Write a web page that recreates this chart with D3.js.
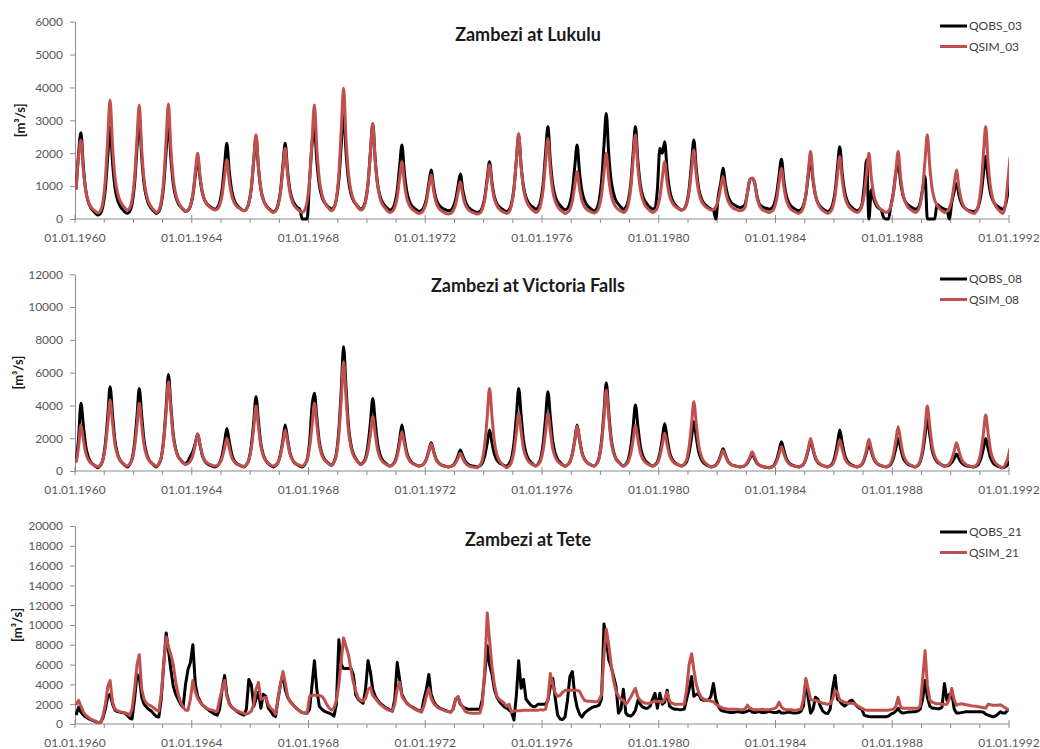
<!DOCTYPE html>
<html>
<head>
<meta charset="utf-8">
<script src="https://cdn.jsdelivr.net/npm/d3@7"></script>
<style>
  html, body { margin: 0; padding: 0; background: #fff; }
  svg { display: block; font-family: Lato, "Open Sans", "DejaVu Sans", sans-serif; }
</style>
</head>
<body>
<svg id="chart" width="1040" height="749"></svg>
<script>
// ---- Monthly discharge [m3/s], one value per month from Jan 1960 to Jan 1992 ----

const panelTitles = ["Zambezi at Lukulu", "Zambezi at Victoria Falls", "Zambezi at Tete"];
const obsNames = ["QOBS_03", "QOBS_08", "QOBS_21"];
const simNames = ["QSIM_03", "QSIM_08", "QSIM_21"];

const xTickYears = [1960, 1964, 1968, 1972, 1976, 1980, 1984, 1988, 1992];
const xTickLabels = ["01.01.1960", "01.01.1964", "01.01.1968", "01.01.1972", "01.01.1976",
                     "01.01.1980", "01.01.1984", "01.01.1988", "01.01.1992"];

const yTicksLukulu = [0, 1000, 2000, 3000, 4000, 5000, 6000];
const yTicksVicFalls = [0, 2000, 4000, 6000, 8000, 10000, 12000];
const yTicksTete = [0, 2000, 4000, 6000, 8000, 10000, 12000, 14000, 16000, 18000, 20000];

const lukuluObs = [
  900, 2000, 2620, 1570, 870, 520, 350, 250, 170, 120, 170, 390,
  920, 1940, 2800, 1700, 960, 590, 410, 300, 220, 170, 230, 460,
  1050, 2160, 3100, 1870, 1050, 640, 430, 320, 230, 170, 230, 450,
  1020, 2090, 3000, 1840, 1060, 670, 480, 370, 290, 230, 260, 390,
  720, 1330, 1850, 1200, 770, 550, 440, 380, 330, 300, 340, 500,
  900, 1660, 2300, 1440, 870, 580, 440, 350, 290, 250, 300, 480,
  930, 1780, 2500, 1540, 900, 590, 430, 330, 270, 220, 260, 430,
  840, 1630, 2300, 1440, 870, 580, 440, 350, 290, 0, 0, 0,
  1200, 2300, 2760, 1730, 1040, 690, 520, 420, 350, 300, 360, 600,
  1190, 2310, 3260, 2020, 1190, 770, 570, 450, 360, 300, 350, 560,
  1080, 2070, 2900, 1800, 1060, 690, 510, 400, 320, 270, 310, 470,
  860, 1620, 2250, 1400, 840, 550, 410, 330, 270, 230, 260, 360,
  610, 1090, 1490, 970, 620, 450, 360, 310, 280, 250, 270, 360,
  590, 1010, 1370, 880, 550, 390, 310, 260, 220, 200, 230, 350,
  660, 1250, 1740, 1110, 680, 470, 370, 310, 260, 230, 280, 460,
  930, 1810, 2550, 1610, 980, 660, 500, 410, 350, 300, 350, 550,
  1050, 2010, 2810, 1750, 1040, 690, 510, 410, 330, 280, 320, 480,
  870, 1620, 2250, 1410, 850, 570, 430, 350, 290, 250, 310, 550,
  1140, 2260, 3210, 1990, 1170, 770, 560, 450, 360, 300, 350, 550,
  1050, 2010, 2810, 1760, 1050, 700, 530, 430, 350, 300, 340, 900,
  2150, 2000, 2350, 1480, 890, 600, 460, 370, 310, 270, 310, 480,
  910, 1720, 2400, 1520, 930, 640, 490, 410, 340, 300, 280, 0,
  700, 1100, 1540, 1040, 710, 540, 460, 410, 370, 350, 370, 440,
  800, 1200, 1240, 1100, 700, 450, 380, 340, 320, 300, 330, 450,
  760, 1330, 1820, 1160, 720, 500, 390, 330, 280, 250, 280, 410,
  730, 1340, 1850, 1170, 720, 490, 380, 310, 260, 230, 270, 430,
  820, 1570, 2200, 1380, 840, 560, 430, 350, 290, 250, 280, 410,
  1000, 1800, 0, 900, 600, 420, 330, 280, 50, 0, 0, 400,
  800, 1400, 1690, 1110, 720, 520, 430, 370, 330, 300, 330, 500,
  900, 1290, 0, 0, 0, 0, 450, 380, 330, 300, 280, 0,
  500, 850, 1080, 720, 480, 360, 300, 260, 240, 220, 250, 390,
  720, 1360, 1900, 1230, 780, 560, 440, 380, 330, 300, 400, 750,
  1200
];

const lukuluSim = [
  900, 1900, 2400, 1470, 850, 540, 380, 290, 230, 180, 250, 520,
  1210, 2520, 3620, 2210, 1280, 810, 570, 440, 340, 270, 330, 590,
  1230, 2450, 3470, 2100, 1180, 720, 490, 360, 270, 200, 270, 530,
  1190, 2440, 3500, 2130, 1210, 750, 520, 390, 300, 230, 270, 410,
  760, 1430, 2000, 1270, 790, 550, 430, 360, 310, 270, 300, 420,
  730, 1310, 1800, 1150, 720, 500, 390, 330, 280, 250, 300, 480,
  940, 1820, 2560, 1570, 910, 580, 410, 320, 250, 200, 240, 400,
  790, 1530, 2150, 1330, 790, 510, 380, 300, 240, 200, 270, 530,
  1180, 2420, 3470, 2120, 1220, 770, 540, 410, 310, 250, 330, 620,
  1370, 2790, 3980, 2420, 1380, 860, 600, 460, 340, 270, 320, 530,
  1060, 2070, 2910, 1770, 1010, 630, 440, 340, 250, 200, 230, 350,
  660, 1250, 1740, 1080, 640, 420, 310, 250, 200, 170, 190, 290,
  520, 970, 1340, 840, 510, 340, 260, 210, 170, 150, 170, 250,
  440, 820, 1130, 720, 440, 310, 240, 200, 170, 150, 180, 300,
  600, 1160, 1640, 1020, 610, 410, 300, 240, 200, 170, 220, 410,
  900, 1820, 2600, 1590, 920, 580, 420, 320, 250, 200, 250, 430,
  880, 1730, 2450, 1490, 850, 540, 380, 280, 220, 170, 200, 300,
  550, 1030, 1440, 910, 560, 380, 290, 240, 210, 180, 220, 360,
  730, 1420, 2000, 1240, 740, 490, 360, 290, 240, 200, 250, 440,
  910, 1810, 2560, 1570, 910, 580, 410, 320, 250, 200, 230, 350,
  660, 1250, 1740, 1120, 710, 510, 400, 340, 300, 270, 310, 450,
  820, 1510, 2100, 1330, 820, 560, 440, 360, 310, 270, 290, 370,
  580, 960, 1290, 850, 560, 420, 340, 300, 270, 250, 270, 350,
  800, 1200, 1240, 1100, 650, 400, 300, 250, 220, 200, 230, 330,
  600, 1110, 1540, 970, 580, 390, 290, 240, 200, 170, 210, 360,
  730, 1450, 2050, 1260, 730, 470, 340, 260, 210, 170, 210, 340,
  690, 1350, 1900, 1190, 710, 470, 350, 290, 230, 200, 240, 380,
  740, 1420, 2000, 1240, 740, 490, 360, 290, 240, 200, 240, 390,
  760, 1460, 2050, 1270, 760, 500, 370, 290, 240, 200, 250, 440,
  910, 1810, 2560, 1570, 910, 580, 410, 320, 250, 200, 230, 330,
  590, 1080, 1490, 940, 570, 380, 290, 240, 200, 170, 220, 430,
  960, 1970, 2810, 1700, 960, 590, 410, 300, 220, 170, 400, 1100,
  1900
];

const vicFallsObs = [
  600, 2000, 4130, 2760, 1500, 870, 550, 400, 280, 200, 350, 690,
  1680, 3410, 5140, 3430, 1860, 1080, 690, 500, 350, 250, 390, 730,
  1690, 3360, 5040, 3360, 1830, 1060, 680, 490, 350, 250, 420, 810,
  1940, 3920, 5890, 3970, 2210, 1330, 890, 680, 510, 450, 600, 900,
  1200, 1700, 2260, 1560, 910, 590, 430, 350, 290, 250, 320, 490,
  960, 1780, 2600, 1780, 1030, 650, 460, 370, 300, 250, 380, 680,
  1530, 3030, 4530, 3030, 1660, 980, 640, 460, 340, 250, 330, 510,
  1020, 1910, 2800, 1910, 1090, 680, 480, 380, 300, 250, 390, 700,
  1800, 4000, 4740, 3200, 1800, 1100, 750, 570, 440, 350, 570, 1070,
  2520, 5050, 7580, 5070, 2770, 1620, 1050, 760, 540, 400, 520, 800,
  1610, 3020, 4430, 2990, 1660, 1000, 670, 510, 380, 300, 380, 550,
  1050, 1930, 2800, 1930, 1130, 730, 530, 430, 350, 300, 340, 440,
  730, 1230, 1730, 1210, 740, 500, 380, 320, 280, 250, 280, 350,
  560, 920, 1280, 920, 590, 430, 340, 300, 270, 250, 320, 480,
  930, 1710, 2500, 1730, 1030, 670, 500, 410, 340, 300, 440, 770,
  1720, 3380, 5040, 3380, 1860, 1110, 730, 540, 400, 300, 440, 750,
  1660, 3250, 4840, 3250, 1800, 1070, 710, 530, 390, 300, 380, 550,
  1050, 1930, 2800, 1930, 1130, 730, 530, 430, 350, 300, 450, 810,
  1830, 3610, 5390, 3610, 1980, 1170, 760, 560, 400, 300, 410, 670,
  1420, 2720, 4020, 2720, 1530, 930, 640, 490, 370, 300, 380, 560,
  1080, 1990, 2900, 1990, 1160, 740, 530, 430, 350, 300, 380, 570,
  1110, 2060, 3010, 2040, 1160, 720, 500, 390, 310, 250, 280, 360,
  580, 970, 1350, 970, 610, 440, 350, 310, 270, 250, 270, 330,
  490, 770, 1050, 750, 480, 350, 280, 240, 220, 200, 250, 360,
  680, 1230, 1790, 1250, 760, 510, 390, 330, 280, 250, 300, 410,
  730, 1290, 1850, 1290, 780, 520, 390, 330, 280, 250, 320, 480,
  930, 1710, 2500, 1710, 990, 630, 450, 360, 300, 250, 290, 390,
  680, 1190, 1690, 1190, 730, 500, 380, 320, 280, 250, 300, 420,
  770, 1380, 1990, 1380, 820, 550, 410, 340, 290, 250, 340, 550,
  1140, 2170, 3210, 2190, 1260, 800, 560, 450, 360, 300, 320, 370,
  520, 780, 1040, 760, 510, 380, 320, 290, 270, 250, 300, 420,
  770, 1380, 1990, 1360, 790, 500, 360, 290, 240, 200, 260, 380,
  620
];

const vicFallsSim = [
  500, 1500, 2800, 1910, 1100, 690, 490, 390, 310, 260, 380, 670,
  1480, 2910, 4330, 2920, 1630, 990, 660, 500, 380, 300, 420, 680,
  1450, 2790, 4130, 2790, 1560, 950, 650, 490, 380, 300, 460, 820,
  1850, 3650, 5450, 3680, 2070, 1260, 860, 650, 500, 400, 460, 590,
  960, 1610, 2260, 1570, 950, 630, 480, 400, 340, 300, 350, 470,
  810, 1400, 1990, 1390, 840, 570, 430, 370, 310, 280, 390, 650,
  1380, 2670, 3960, 2680, 1510, 920, 630, 480, 370, 300, 370, 520,
  960, 1730, 2500, 1730, 1030, 670, 500, 410, 340, 300, 420, 680,
  1450, 2790, 4130, 2810, 1600, 990, 690, 540, 430, 350, 540, 980,
  2250, 4460, 6670, 4480, 2470, 1470, 960, 710, 530, 400, 490, 690,
  1270, 2290, 3310, 2260, 1290, 810, 570, 450, 360, 300, 360, 510,
  930, 1670, 2400, 1670, 990, 660, 490, 410, 340, 300, 340, 440,
  710, 1180, 1650, 1160, 710, 490, 380, 320, 280, 250, 280, 330,
  500, 790, 1080, 770, 490, 350, 280, 240, 220, 200, 350, 680,
  1650, 3350, 5040, 3350, 1800, 1020, 640, 440, 300, 200, 300, 530,
  1200, 2360, 3520, 2390, 1360, 850, 590, 460, 360, 300, 400, 620,
  1270, 2390, 3520, 2390, 1360, 850, 590, 460, 360, 300, 370, 550,
  1040, 1890, 2750, 1890, 1110, 720, 520, 420, 350, 300, 440, 760,
  1690, 3320, 4940, 3320, 1830, 1090, 720, 530, 390, 300, 380, 550,
  1050, 1930, 2800, 1930, 1130, 730, 530, 430, 350, 300, 360, 500,
  900, 1600, 2300, 1600, 960, 640, 480, 400, 340, 300, 420, 690,
  1480, 2860, 4230, 2840, 1560, 930, 610, 450, 330, 250, 280, 350,
  550, 900, 1250, 900, 580, 420, 340, 300, 270, 250, 280, 340,
  530, 860, 1180, 840, 520, 370, 290, 250, 220, 200, 240, 330,
  580, 1030, 1480, 1050, 660, 460, 360, 310, 280, 250, 300, 420,
  770, 1380, 1990, 1380, 820, 550, 410, 340, 290, 250, 300, 410,
  740, 1320, 1890, 1320, 790, 530, 400, 330, 280, 250, 300, 420,
  750, 1340, 1930, 1340, 800, 540, 400, 330, 280, 250, 320, 500,
  990, 1840, 2700, 1840, 1060, 670, 470, 370, 300, 250, 360, 620,
  1360, 2660, 3960, 2680, 1510, 920, 630, 480, 370, 300, 340, 440,
  730, 1230, 1730, 1210, 740, 500, 380, 320, 280, 250, 350, 570,
  1200, 2300, 3410, 2290, 1260, 750, 490, 360, 260, 200, 400, 750,
  1400
];

const teteObs = [
  900, 1700, 1200, 900, 700, 550, 450, 350, 250, 150, 150, 600,
  1500, 2800, 3000, 2000, 1400, 1250, 1200, 1150, 1100, 900, 600, 500,
  2500, 5000, 4800, 2700, 2000, 1700, 1450, 1300, 1000, 750, 700, 2500,
  6000, 9200, 7500, 5500, 3800, 3000, 2500, 2000, 1700, 4000, 5500, 6200,
  8000, 4000, 2800, 2300, 1900, 1700, 1500, 1300, 1150, 1000, 900, 1500,
  3500, 4900, 3000, 2100, 1700, 1500, 1300, 1150, 1000, 900, 1500, 4500,
  4000, 1800, 2500, 3200, 1600, 3000, 2800, 1600, 1300, 900, 750, 2500,
  4000, 5000, 3500, 2700, 2300, 2000, 1750, 1500, 1300, 1150, 1100, 1100,
  1500, 4000, 6400, 3400, 1800, 1500, 1300, 1200, 1100, 1000, 800, 2000,
  8500, 6000, 5600, 5600, 5600, 5600, 5000, 2900, 2500, 2300, 2100, 3500,
  6400, 5200, 3500, 2800, 2400, 2100, 1900, 1700, 1550, 1400, 1300, 2500,
  6200, 4500, 3000, 2500, 2100, 1900, 1750, 1600, 1450, 1350, 1250, 2500,
  3500, 5000, 3000, 2300, 1900, 1700, 1550, 1450, 1350, 1250, 1200, 1500,
  2500, 2700, 2000, 1750, 1600, 1500, 1480, 1480, 1480, 1480, 1480, 2500,
  5000, 7900, 6000, 5000, 3500, 2700, 2300, 2000, 1750, 1600, 1400, 1200,
  400, 3000, 6400, 3600, 4500, 2500, 2200, 1900, 1750, 1800, 2000, 2000,
  2000, 2000, 2400, 3800, 4600, 2600, 900, 500, 450, 700, 2400, 4800,
  5300, 2800, 1700, 1000, 700, 1100, 1300, 1500, 1650, 1750, 1800, 1900,
  2500, 10100, 8500, 6500, 5800, 4800, 3800, 1100, 1500, 3500, 1100, 850,
  800, 1000, 1400, 2400, 2000, 1700, 1600, 1600, 1800, 2500, 3100, 1600,
  3100, 2000, 2200, 3400, 1800, 1600, 1500, 1500, 1450, 1450, 1500, 2500,
  3500, 4800, 2800, 3000, 3000, 2500, 2400, 2400, 2400, 2800, 4100, 2500,
  1800, 1400, 1300, 1250, 1200, 1150, 1150, 1200, 1250, 1200, 1150, 1200,
  1300, 1400, 1200, 1150, 1200, 1250, 1150, 1150, 1200, 1300, 1200, 1150,
  1150, 1300, 1100, 1100, 1150, 1200, 1150, 1100, 1100, 1150, 1300, 1800,
  4400, 2500, 1100, 1500, 2700, 2500, 1800, 1300, 1100, 1050, 1500, 3500,
  4900, 2500, 2300, 2000, 1800, 2000, 2300, 2400, 2100, 1800, 1600, 1500,
  900, 800, 750, 740, 740, 740, 740, 740, 740, 740, 800, 1000,
  1100, 1300, 1580, 1200, 1100, 1150, 1200, 1200, 1250, 1250, 1300, 1500,
  2500, 4400, 2700, 1800, 1600, 1580, 1550, 1550, 1700, 4100, 2400, 3000,
  3100, 1500, 1100, 1100, 1150, 1200, 1250, 1250, 1250, 1250, 1240, 1240,
  1240, 1200, 1000, 900, 800, 740, 800, 1000, 1240, 1100, 1100, 1400,
  1450
];

const teteSim = [
  1900, 2400, 1800, 1200, 900, 700, 500, 400, 300, 150, 130, 800,
  2000, 3800, 4400, 2200, 1500, 1350, 1250, 1200, 1150, 1050, 900, 1500,
  3500, 6000, 7000, 3500, 2500, 2100, 1900, 1800, 1600, 1400, 1300, 3000,
  6000, 8800, 7800, 7000, 6000, 4200, 3000, 2200, 1700, 1400, 1400, 2500,
  4400, 3200, 2600, 2200, 1900, 1700, 1550, 1450, 1400, 1300, 1300, 2500,
  3500, 4400, 2800, 2000, 1700, 1500, 1350, 1250, 1150, 1080, 1000, 1100,
  1300, 2000, 3500, 4200, 2500, 2600, 2700, 2000, 1600, 1400, 1000, 2500,
  4000, 5300, 4200, 2800, 2300, 2000, 1750, 1500, 1300, 1150, 1100, 1100,
  2800, 2900, 2900, 2900, 2900, 2800, 2500, 2000, 1600, 1400, 1600, 2400,
  4000, 6500, 8700, 7800, 7000, 5500, 4200, 3300, 2600, 2400, 2300, 2600,
  3500, 3700, 2900, 2600, 2300, 2000, 1800, 1600, 1450, 1350, 1300, 2000,
  3500, 4200, 2800, 2400, 2100, 1900, 1700, 1550, 1400, 1300, 1200, 1800,
  2800, 3600, 2600, 2100, 1800, 1600, 1500, 1400, 1300, 1250, 1200, 1500,
  2500, 2800, 2100, 1700, 1300, 1150, 1100, 1080, 1080, 1080, 1100, 2000,
  5500, 11200, 8500, 5800, 4000, 2800, 2500, 2300, 2100, 1800, 2000, 1200,
  1300, 1350, 1350, 1350, 1400, 1400, 1400, 1400, 1400, 1400, 1400, 1450,
  1400, 1500, 2500, 5100, 4000, 3100, 2800, 2900, 3200, 3400, 3400, 3400,
  3400, 3400, 3400, 3300, 2800, 2400, 2300, 2300, 2300, 2250, 2250, 2400,
  3000, 7000, 9600, 8000, 6000, 4400, 3300, 2800, 2500, 2400, 2000, 2300,
  2700, 3200, 3600, 2700, 2400, 2200, 2100, 2100, 2100, 2200, 2300, 2300,
  2300, 2200, 2500, 3200, 2300, 2100, 2000, 2000, 2000, 2000, 2000, 3500,
  6000, 7100, 5500, 4000, 3200, 2700, 2500, 2400, 2400, 2300, 2250, 2000,
  1850, 1700, 1600, 1550, 1500, 1500, 1500, 1500, 1500, 1450, 1450, 1500,
  1900, 1600, 1500, 1450, 1450, 1450, 1500, 1450, 1450, 1450, 1500, 1550,
  1700, 2200, 1700, 1500, 1450, 1450, 1450, 1400, 1400, 1450, 1500, 2500,
  4600, 3500, 2500, 2400, 2400, 2300, 2200, 2100, 2050, 2000, 2050, 2500,
  3400, 3200, 2400, 2300, 2200, 2100, 2100, 2100, 2050, 1900, 1750, 1600,
  1450, 1400, 1400, 1400, 1400, 1400, 1400, 1400, 1400, 1400, 1400, 1450,
  1500, 1800, 2700, 1700, 1580, 1580, 1580, 1580, 1580, 1580, 1580, 1800,
  4500, 7400, 4000, 2400, 2200, 2100, 2050, 2050, 2000, 2000, 2000, 2500,
  3600, 2400, 1900, 2000, 2050, 2000, 1950, 1900, 1850, 1820, 1800, 1750,
  1700, 1650, 1600, 2000, 1950, 1900, 1900, 1900, 1950, 1800, 1650, 1450,
  1380
];

// ---- Drawing ----
const svg = d3.select("#chart");
const AXIS_GREY = "#8c8c8c";
const TEXT_GREY = "#595959";
const OBS_COLOR = "#000000";
const SIM_COLOR = "#c0504d";
const LINE_WIDTH = 3;

const x = d3.scaleTime()
  .domain([new Date(1960, 0, 1), new Date(1992, 0, 1)])
  .range([75, 1009]);

// mid-month time stamps for every stored value
const monthDates = d3.range(lukuluObs.length).map(i => new Date(1960, i, 15));

const panels = [
  { title: panelTitles[0], obs: lukuluObs, sim: lukuluSim, obsName: obsNames[0], simName: simNames[0],
    ticks: yTicksLukulu, top: 21.7, bottom: 219, titleY: 41, legendY: 26, yLabelX: 20,
    curve: d3.curveMonotoneX },
  { title: panelTitles[1], obs: vicFallsObs, sim: vicFallsSim, obsName: obsNames[1], simName: simNames[1],
    ticks: yTicksVicFalls, top: 274.3, bottom: 471, titleY: 292, legendY: 279, yLabelX: 18,
    curve: d3.curveMonotoneX },
  { title: panelTitles[2], obs: teteObs, sim: teteSim, obsName: obsNames[2], simName: simNames[2],
    ticks: yTicksTete, top: 526, bottom: 724, titleY: 546, legendY: 532, yLabelX: 17,
    curve: d3.curveLinear }
];

panels.forEach((p, idx) => {
  const g = svg.append("g");
  const y = d3.scaleLinear()
    .domain([0, d3.max(p.ticks)])
    .range([p.bottom, p.top]);

  // clip the series to the time range of the axis
  const clipId = "clip" + idx;
  svg.append("clipPath").attr("id", clipId)
    .append("rect")
    .attr("x", x.range()[0]).attr("y", p.top - 20)
    .attr("width", x.range()[1] - x.range()[0])
    .attr("height", p.bottom - p.top + 30);

  // y axis
  const yAxis = g.append("g")
    .attr("transform", `translate(${x.range()[0]},0)`)
    .call(d3.axisLeft(y).tickValues(p.ticks).tickSize(5).tickPadding(7).tickSizeOuter(0)
      .tickFormat(d3.format("d")));
  yAxis.select(".domain").attr("stroke", AXIS_GREY);
  yAxis.selectAll(".tick line").attr("stroke", AXIS_GREY);
  yAxis.selectAll(".tick text")
    .attr("fill", TEXT_GREY)
    .style("font-size", "12px")
    .style("font-family", "Lato, 'Open Sans', sans-serif");

  // x axis: baseline, yearly minor ticks, 4-yearly crossing major ticks
  const xg = g.append("g");
  xg.append("line")
    .attr("x1", x.range()[0]).attr("x2", x.range()[1])
    .attr("y1", p.bottom).attr("y2", p.bottom)
    .attr("stroke", AXIS_GREY);
  const years = d3.range(1960, 1993);
  xg.selectAll("line.minor")
    .data(years.filter(yr => !xTickYears.includes(yr)))
    .join("line")
    .attr("class", "minor")
    .attr("x1", d => x(new Date(d, 0, 1))).attr("x2", d => x(new Date(d, 0, 1)))
    .attr("y1", p.bottom).attr("y2", p.bottom + 4)
    .attr("stroke", AXIS_GREY);
  xg.selectAll("line.major")
    .data(xTickYears)
    .join("line")
    .attr("class", "major")
    .attr("x1", d => x(new Date(d, 0, 1))).attr("x2", d => x(new Date(d, 0, 1)))
    .attr("y1", p.bottom - 4).attr("y2", p.bottom + 4)
    .attr("stroke", AXIS_GREY);
  xg.selectAll("text")
    .data(xTickYears)
    .join("text")
    .attr("x", d => x(new Date(d, 0, 1)))
    .attr("y", p.bottom + 19)
    .attr("dy", "0.35em")
    .attr("text-anchor", "middle")
    .attr("fill", TEXT_GREY)
    .style("font-size", "12px")
    .text((d, i) => xTickLabels[i]);

  // series: observed first, simulated drawn on top
  const line = d3.line()
    .x((d, i) => x(monthDates[i]))
    .y(d => y(d))
    .curve(p.curve);
  const plot = g.append("g").attr("clip-path", `url(#${clipId})`);
  plot.append("path")
    .datum(p.obs)
    .attr("fill", "none")
    .attr("stroke", OBS_COLOR)
    .attr("stroke-width", LINE_WIDTH)
    .attr("stroke-linejoin", "round")
    .attr("d", line);
  plot.append("path")
    .datum(p.sim)
    .attr("fill", "none")
    .attr("stroke", SIM_COLOR)
    .attr("stroke-width", LINE_WIDTH)
    .attr("stroke-linejoin", "round")
    .attr("d", line);

  // title
  g.append("text")
    .attr("x", 528).attr("y", p.titleY)
    .attr("text-anchor", "middle")
    .attr("fill", "#1a1a1a")
    .style("font-size", "18px")
    .style("font-weight", "bold")
    .text(p.title);

  // y axis label
  g.append("text")
    .attr("transform", `translate(${p.yLabelX},${(p.top + p.bottom) / 2}) rotate(-90)`)
    .attr("text-anchor", "middle")
    .attr("dy", "0.35em")
    .attr("fill", "#1a1a1a")
    .style("font-size", "13px")
    .style("font-weight", "bold")
    .text("[m³/s]");

  // legend
  const legend = g.append("g");
  [[p.obsName, OBS_COLOR], [p.simName, SIM_COLOR]].forEach(([name, color], k) => {
    const ly = p.legendY + k * 20.5;
    legend.append("line")
      .attr("x1", 940).attr("x2", 967)
      .attr("y1", ly).attr("y2", ly)
      .attr("stroke", color).attr("stroke-width", LINE_WIDTH);
    legend.append("text")
      .attr("x", 969).attr("y", ly)
      .attr("dy", "0.35em")
      .attr("fill", "#404040")
      .style("font-size", "12px")
      .text(name);
  });
});
</script>
</body>
</html>
